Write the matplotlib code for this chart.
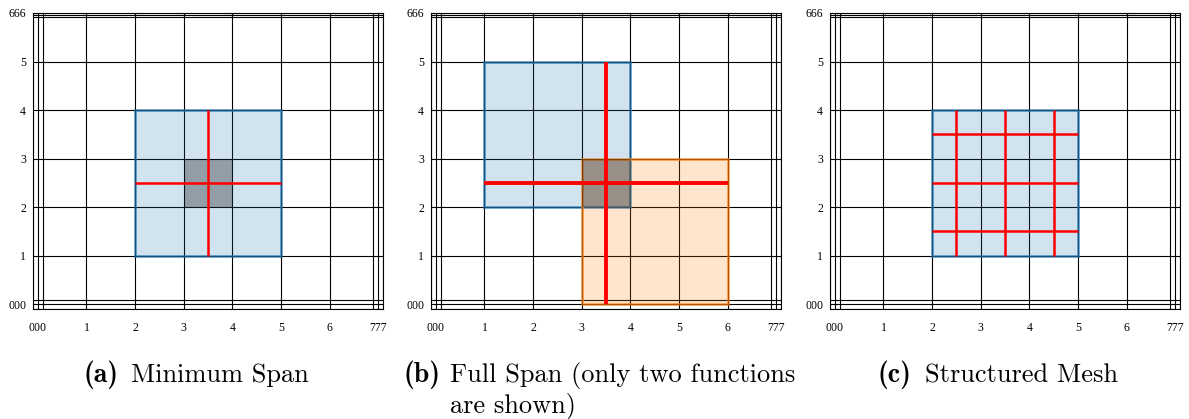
import matplotlib
matplotlib.use("Agg")
import matplotlib.pyplot as plt
from matplotlib.patches import Rectangle
from matplotlib.colors import to_rgba

# knot vectors (open, repeated ends)
knots_x = [0, 0, 0, 1, 2, 3, 4, 5, 6, 7, 7, 7]
knots_y = [0, 0, 0, 1, 2, 3, 4, 5, 6, 6, 6]
xtick_vals = [0, 1, 2, 3, 4, 5, 6, 7]
xtick_labels = ["000", "1", "2", "3", "4", "5", "6", "777"]
ytick_vals = [0, 1, 2, 3, 4, 5, 6]
ytick_labels = ["000", "1", "2", "3", "4", "5", "666"]

# (a) minimum span
a_supports = [(2, 1, 5, 4)]
a_element = (3, 2, 4, 3)
a_red_v = [(3.5, 1, 4)]
a_red_h = [(2.5, 2, 5)]

# (b) full span
b_supports = [(1, 2, 4, 5), (3, 0, 6, 3)]
b_element = (3, 2, 4, 3)
b_red_v = [(3.5, 0, 5)]
b_red_h = [(2.5, 1, 6)]

# (c) structured mesh
c_supports = [(2, 1, 5, 4)]
c_red_v = [(2.5, 1, 4), (3.5, 1, 4), (4.5, 1, 4)]
c_red_h = [(1.5, 2, 5), (2.5, 2, 5), (3.5, 2, 5)]

support_colors = ["tab:blue", "tab:orange"]


def spread(knots, lo_off, hi_off):
    # repeated knots are drawn slightly apart so each one is visible
    out = []
    lo, hi = knots[0], knots[-1]
    n_lo = knots.count(lo)
    n_hi = knots.count(hi)
    for i, k in enumerate(knots):
        if k == lo and n_lo > 1:
            out.append(k + lo_off[i])
        elif k == hi and n_hi > 1:
            j = i - (len(knots) - n_hi)
            out.append(k + hi_off[j])
        else:
            out.append(k)
    return out


def draw_grid(ax):
    xs = spread(knots_x, [-0.1, 0, 0.1], [-0.1, 0, 0.1])
    ys = spread(knots_y, [-0.1, 0, 0.09], [-0.09, -0.045, 0])
    for x in xs:
        ax.axvline(x, color="k", lw=0.8, zorder=1)
    for y in ys:
        ax.axhline(y, color="k", lw=0.8, zorder=1)
    ax.set_xlim(min(xs), max(xs))
    ax.set_ylim(min(ys), max(ys))
    ax.set_xticks(xtick_vals)
    ax.set_xticklabels(xtick_labels)
    ax.set_yticks(ytick_vals)
    ax.set_yticklabels(ytick_labels)
    ax.tick_params(length=0, labelsize=8.5)
    ax.tick_params(axis="x", pad=9)
    ax.tick_params(axis="y", pad=5)
    for lab in ax.get_xticklabels() + ax.get_yticklabels():
        lab.set_fontfamily("Liberation Serif")
    for s in ax.spines.values():
        s.set_linewidth(0.8)


def draw_support(ax, box, color):
    x0, y0, x1, y1 = box
    ax.add_patch(Rectangle((x0, y0), x1 - x0, y1 - y0,
                           facecolor=to_rgba(color, 0.2),
                           edgecolor=to_rgba(color, 0.65),
                           lw=2.0, zorder=2))


def draw_element(ax, box):
    x0, y0, x1, y1 = box
    ax.add_patch(Rectangle((x0, y0), x1 - x0, y1 - y0,
                           facecolor=to_rgba("k", 0.3), edgecolor="none",
                           zorder=3))


def draw_red(ax, vlines, hlines, lw):
    for x, y0, y1 in vlines:
        ax.plot([x, x], [y0, y1], color="red", lw=lw, zorder=4,
                solid_capstyle="butt")
    for y, x0, x1 in hlines:
        ax.plot([x0, x1], [y, y], color="red", lw=lw, zorder=4,
                solid_capstyle="butt")


fig = plt.figure(figsize=(11.89, 4.19), dpi=100)

W, H = 1189, 419
lefts = [33, 431, 830]
axes = [fig.add_axes([l / W, (H - 309) / H, 350 / W, 296 / H]) for l in lefts]

for ax in axes:
    draw_grid(ax)

for box, c in zip(a_supports, support_colors):
    draw_support(axes[0], box, c)
draw_element(axes[0], a_element)
draw_red(axes[0], a_red_v, a_red_h, 1.8)

for box, c in zip(b_supports, support_colors):
    draw_support(axes[1], box, c)
draw_element(axes[1], b_element)
draw_red(axes[1], b_red_v, b_red_h, 2.8)

for box, c in zip(c_supports, support_colors):
    draw_support(axes[2], box, c)
draw_red(axes[2], c_red_v, c_red_h, 1.8)

# captions
base1 = 1 - 382 / H
base2 = 1 - 412 / H
fs = 19
fig.text(83 / W, base1, "(a)", family="cmb10", fontsize=fs + 1, va="baseline")
fig.text(131 / W, base1, "Minimum Span", family="cmr10", fontsize=fs,
         va="baseline")
fig.text(403 / W, base1, "(b)", family="cmb10", fontsize=fs + 1, va="baseline")
fig.text(450 / W, base1, "Full Span (only two functions", family="cmr10",
         fontsize=fs, va="baseline")
fig.text(450 / W, base2, "are shown)", family="cmr10", fontsize=fs,
         va="baseline")
fig.text(878 / W, base1, "(c)", family="cmb10", fontsize=fs + 1, va="baseline")
fig.text(925 / W, base1, "Structured Mesh", family="cmr10", fontsize=fs,
         va="baseline")

fig.savefig("out.png", dpi=100)
